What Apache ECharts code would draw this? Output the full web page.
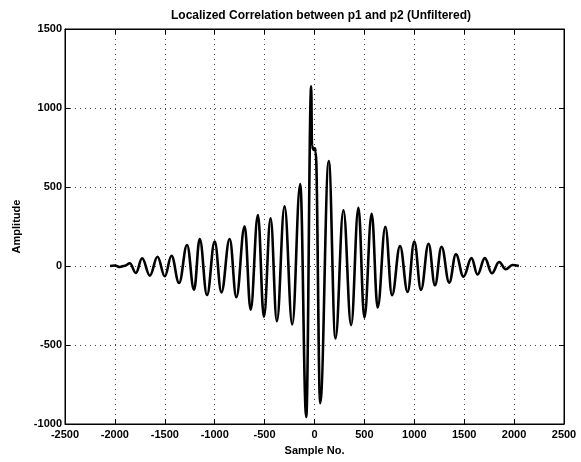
<!DOCTYPE html>
<html>
<head>
<meta charset="utf-8">
<script src="https://cdn.jsdelivr.net/npm/echarts@6/dist/echarts.min.js"></script>
<style>
html,body{margin:0;padding:0;background:#fff;}
#c{width:581px;height:462px;}
</style>
</head>
<body>
<div id="c"></div>
<script>
// Sample numbers (x) and amplitudes (y)
var sampleNo = [
  -2048, -2000, -1950, -1900, -1850, -1790, -1727, -1650, -1573, -1500,
  -1433, -1357, -1277, -1207, -1150, -1077, -1000, -933, -850, -783,
  -700, -640, -567, -507, -440, -377, -300, -223, -143, -83,
  -33, -25, -10, 5, 12, 57, 143, 210, 290, 367,
  440, 500, 573, 633, 710, 777, 857, 933, 1000, 1067,
  1143, 1207, 1273, 1350, 1417, 1493, 1573, 1633, 1707, 1777,
  1850, 1917, 1983, 2048
];
var amplitude = [
  0, 3, -6, 2, 17, -44, 49, -61, 59, -65,
  65, -108, 133, -150, 171, -184, 154, -167, 171, -198,
  251, -276, 323, -321, 302, -349, 378, -370, 519, -955,
  1138, 760, 735, 745, 720, -868, 665, -458, 353, -374,
  368, -326, 330, -263, 248, -185, 126, -164, 154, -151,
  141, -122, 122, -105, 74, -67, 50, -54, 50, -46,
  25, -21, 6, 0
];
var xTicks = [-2500, -2000, -1500, -1000, -500, 0, 500, 1000, 1500, 2000, 2500];
var yTicks = [-1000, -500, 0, 500, 1000, 1500];

var FONT = '"Liberation Sans", Arial, Helvetica, sans-serif';
var seriesData = sampleNo.map(function (x, i) { return [x, amplitude[i]]; });
var plain = function (v) { return String(v); };

var chart = echarts.init(document.getElementById('c'), null, {renderer: 'canvas'});
var gridLine = {show: true, lineStyle: {color: '#444', type: [1, 4], width: 1}};
var tick = {show: true, inside: true, length: 5, lineStyle: {color: '#000', width: 1}};
var axLine = {show: true, onZero: false, lineStyle: {color: '#000', width: 1}};
chart.setOption({
  animation: false,
  backgroundColor: '#fff',
  title: {
    text: 'Localized Correlation between p1 and p2 (Unfiltered)',
    left: 316, top: 5, textAlign: 'center',
    textStyle: {fontFamily: FONT, fontSize: 12, fontWeight: 'bold', color: '#000'}
  },
  grid: {left: 65, right: 17, top: 29, bottom: 38, show: true, borderColor: '#000', borderWidth: 1, containLabel: false},
  xAxis: [{
    type: 'value', min: xTicks[0], max: xTicks[xTicks.length - 1], interval: 500,
    position: 'bottom',
    name: 'Sample No.', nameLocation: 'middle', nameGap: 21,
    nameTextStyle: {fontFamily: FONT, fontSize: 11, fontWeight: 'bold', color: '#000'},
    axisLine: axLine,
    axisTick: tick,
    axisLabel: {margin: 5, formatter: plain, fontFamily: FONT, fontSize: 11, fontWeight: 'bold', color: '#000'},
    splitLine: gridLine
  }, {
    type: 'value', min: xTicks[0], max: xTicks[xTicks.length - 1], interval: 500,
    position: 'top',
    axisLine: axLine,
    axisTick: tick, axisLabel: {show: false}, splitLine: {show: false}
  }],
  yAxis: [{
    type: 'value', min: yTicks[0], max: yTicks[yTicks.length - 1], interval: 500,
    position: 'left',
    name: 'Amplitude', nameLocation: 'middle', nameGap: 37, nameRotate: 90,
    nameTextStyle: {fontFamily: FONT, fontSize: 11, fontWeight: 'bold', color: '#000'},
    axisLine: axLine,
    axisTick: tick,
    axisLabel: {margin: 3, formatter: plain, fontFamily: FONT, fontSize: 11, fontWeight: 'bold', color: '#000'},
    splitLine: gridLine
  }, {
    type: 'value', min: yTicks[0], max: yTicks[yTicks.length - 1], interval: 500,
    position: 'right',
    axisLine: axLine,
    axisTick: tick, axisLabel: {show: false}, splitLine: {show: false}
  }],
  series: [{
    type: 'line',
    data: seriesData,
    xAxisIndex: 0, yAxisIndex: 0,
    showSymbol: false,
    smooth: 0.4,
    smoothMonotone: 'x',
    lineStyle: {color: '#000', width: 2.6},
    z: 5
  }]
});
</script>
</body>
</html>
